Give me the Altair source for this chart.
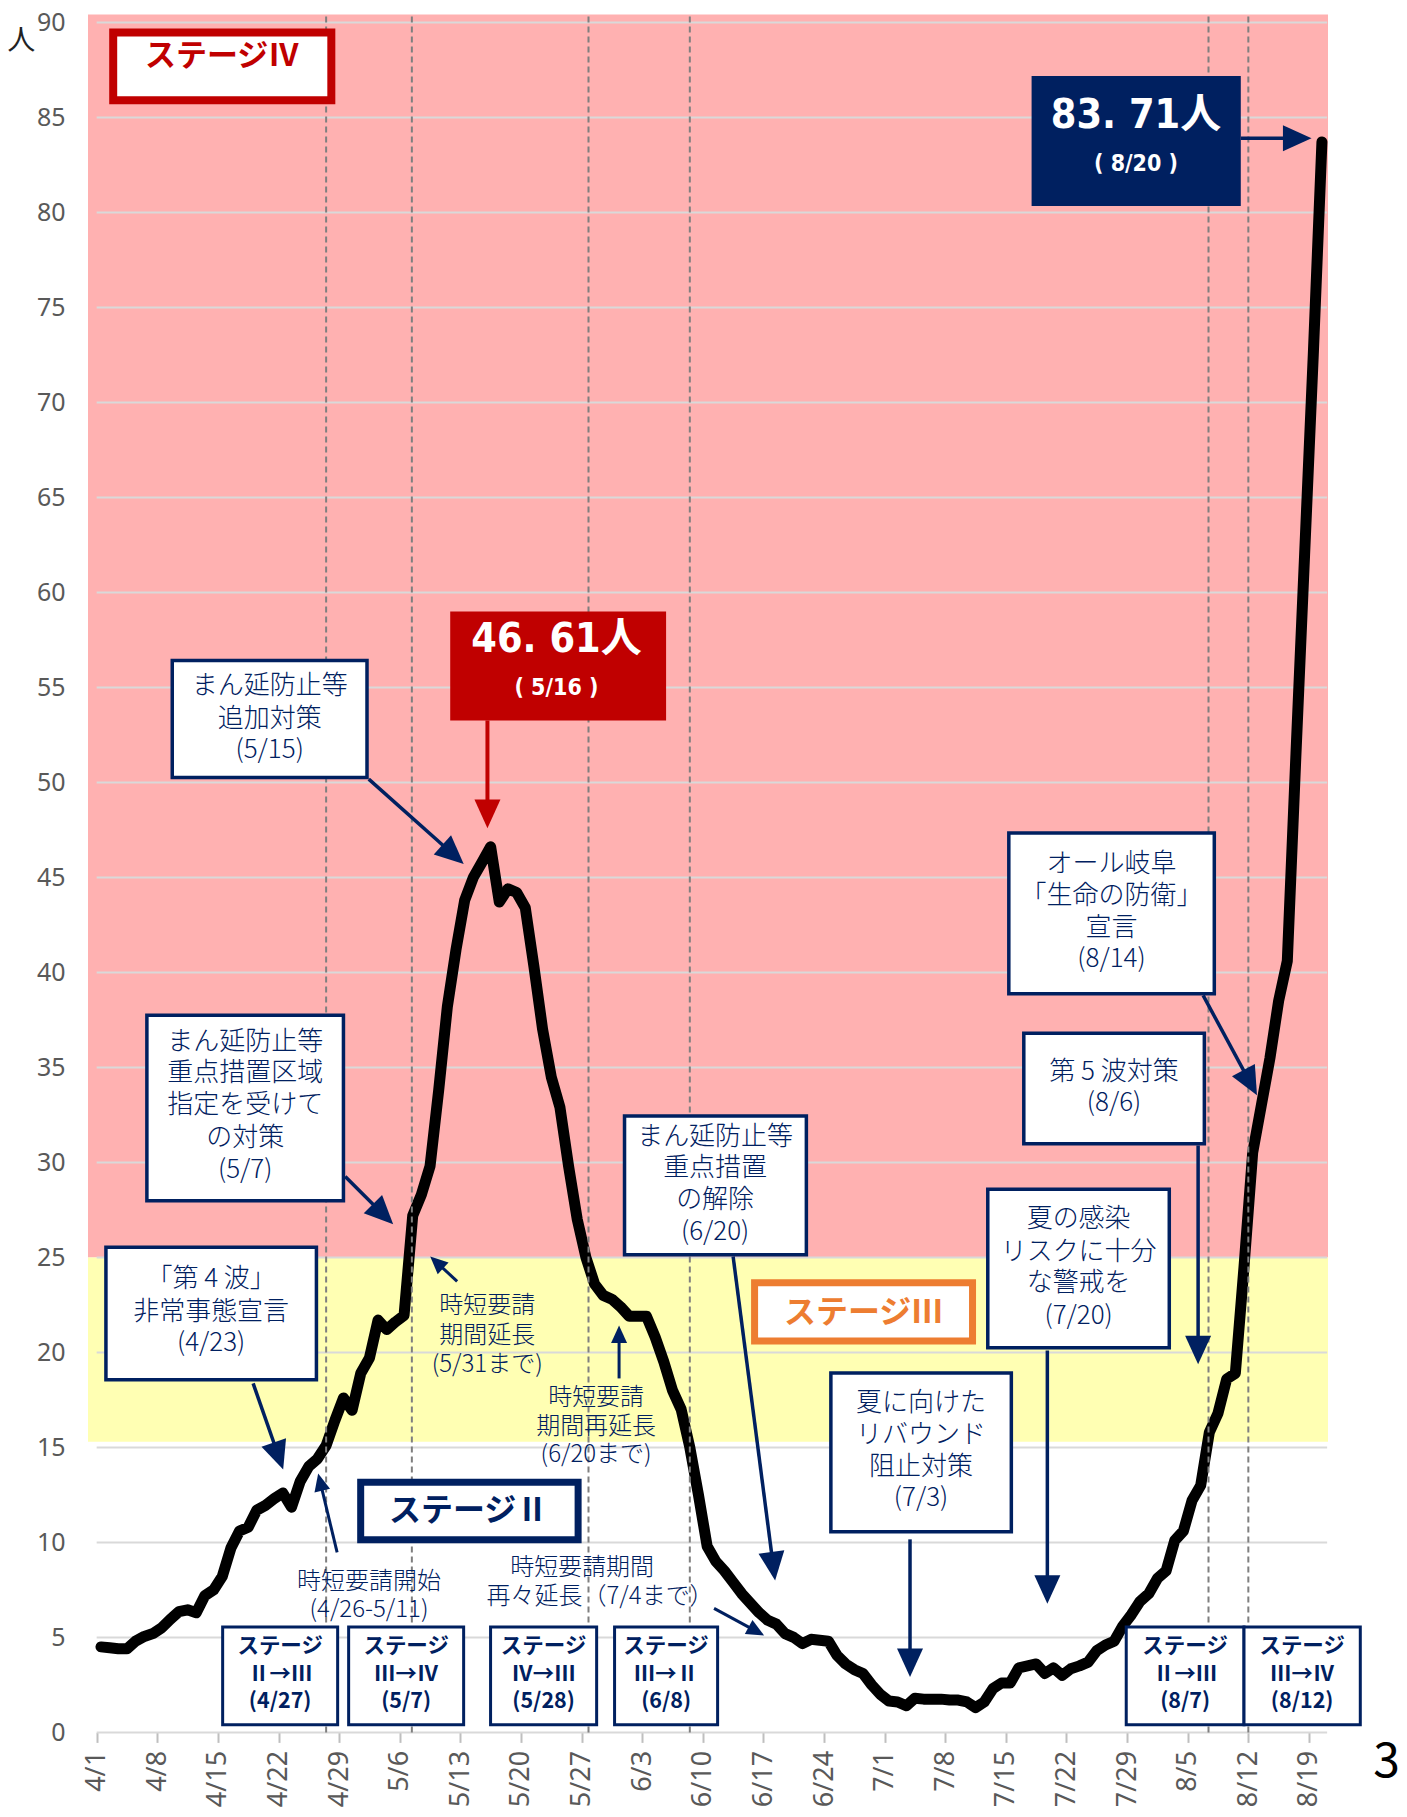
import json
import math
import altair as alt
import pandas as pd

# ------------------------------------------------------------------ data
START_DATE = "2021-04-01"
# 直近1週間の人口10万人あたり新規陽性者数 (4/1 - 8/20)
RATE = [
    4.5, 4.45, 4.4, 4.4, 4.8, 5.05, 5.2, 5.5, 5.95, 6.35,          # 4/1-4/10
    6.45, 6.3, 7.2, 7.5, 8.2, 9.7, 10.6, 10.8, 11.7, 11.95,        # 4/11-4/20
    12.3, 12.6, 11.85, 13.2, 14.0, 14.4, 15.1, 16.4, 17.6, 16.95,  # 4/21-4/30
    18.9, 19.7, 21.7, 21.2, 21.6, 21.95, 27.2, 28.3, 29.8, 33.8,   # 5/1-5/10
    38.2, 41.2, 43.8, 45.0, 45.8, 46.61, 43.7, 44.4, 44.2, 43.4,   # 5/11-5/20
    40.3, 37.0, 34.5, 32.9, 29.8, 27.0, 25.0, 23.6, 23.0, 22.8,    # 5/21-5/30
    22.4, 21.9, 21.9, 21.9, 20.8, 19.5, 18.0, 17.0, 15.0, 12.5,    # 5/31-6/9
    9.8, 9.0, 8.5, 7.9, 7.3, 6.8, 6.3, 5.9, 5.7, 5.2,              # 6/10-6/19
    5.0, 4.67, 4.9, 4.85, 4.8, 4.05, 3.6, 3.3, 3.1, 2.5,           # 6/20-6/29
    2.0, 1.65, 1.6, 1.4, 1.8, 1.75, 1.75, 1.75, 1.7, 1.7,          # 6/30-7/9
    1.6, 1.3, 1.6, 2.3, 2.6, 2.6, 3.4, 3.5, 3.6, 3.1,              # 7/10-7/19
    3.4, 3.0, 3.35, 3.5, 3.7, 4.3, 4.6, 4.8, 5.6, 6.2,             # 7/20-7/29
    6.9, 7.3, 8.1, 8.5, 10.1, 10.6, 12.2, 13.0, 15.8, 16.8,        # 7/30-8/8
    18.6, 18.9, 24.5, 30.5, 33.0, 35.5, 38.5, 40.6, 51.5, 62.0,    # 8/9-8/18
    72.5, 83.71,                                                   # 8/19-8/20
]
TICK_LABELS = ["4/1", "4/8", "4/15", "4/22", "4/29", "5/6", "5/13", "5/20",
               "5/27", "6/3", "6/10", "6/17", "6/24", "7/1", "7/8", "7/15",
               "7/22", "7/29", "8/5", "8/12", "8/19"]
Y_TICKS = [0, 5, 10, 15, 20, 25, 30, 35, 40, 45, 50, 55, 60, 65, 70, 75, 80, 85, 90]
STAGE4_FROM = 25
STAGE3_FROM = 15.3
STAGE_CHANGE_DATES = ["4/27", "5/7", "5/28", "6/8", "8/7", "8/12"]
STAGE_CHANGE_STEPS = ["Ⅱ→Ⅲ", "Ⅲ→Ⅳ", "Ⅳ→Ⅲ", "Ⅲ→Ⅱ", "Ⅱ→Ⅲ", "Ⅲ→Ⅳ"]
PEAK_DATES = ["5/16", "8/20"]

# ------------------------------------------------------------------ layout
W, H = 1240, 1718
XMIN, XMAX = -1.0, 142.2
YMIN, YMAX = 0.0, 90.42
GRID_END = 142.1
PX_DAY = W / (XMAX - XMIN)
PX_VAL = H / (YMAX - YMIN)
DASH_NUDGE = [0.0, -0.1, -0.7, 0.0, -0.1, -0.5]   # where the original dashed lines sit

NAVY = "#002060"
RED = "#C00000"
ORANGE = "#ED7D31"
JP = "Noto Sans CJK JP"
NARROW = "'Liberation Sans Narrow', 'DejaVu Sans Condensed', 'Noto Sans CJK JP'"

start = pd.Timestamp(START_DATE)


def day_of(md):
    m, d = md.split("/")
    return (pd.Timestamp(year=start.year, month=int(m), day=int(d)) - start).days


XS = alt.Scale(domain=[XMIN, XMAX], nice=False, zero=False)
YS = alt.Scale(domain=[YMIN, YMAX], nice=False, zero=False)
X_AXIS = alt.Axis(
    values=[7 * i for i in range(len(TICK_LABELS))],
    labelExpr=json.dumps(TICK_LABELS) + "[round(datum.value / 7)]",
    labelAngle=270, labelFontSize=27, labelColor="#595959", labelFont="Noto Sans",
    labelPadding=8, ticks=True, tickSize=10, tickColor="#BFBFBF", tickWidth=2,
    domain=False, grid=False, title=None, labelOverlap=False, labelFlush=False,
)
Y_AXIS = alt.Axis(
    values=Y_TICKS, labelFontSize=25, labelColor="#595959", labelFont="Noto Sans",
    labelPadding=23, ticks=False, domain=False, grid=False, title=None,
    labelOverlap=False, labelFlush=False,
)


def X(f):
    return alt.X(f"{f}:Q", scale=XS, axis=X_AXIS)


def Y(f):
    return alt.Y(f"{f}:Q", scale=YS, axis=Y_AXIS)


# bands
bands = pd.DataFrame({
    "x": [XMIN, XMIN], "x2": [XMAX, XMAX],
    "y": [STAGE4_FROM, STAGE3_FROM], "y2": [YMAX, STAGE4_FROM],
    "c": ["#FFB1B1", "#FFFFB3"],
})
band_layer = alt.Chart(bands).mark_rect().encode(
    x=X("x"), x2="x2", y=Y("y"), y2="y2", fill=alt.Fill("c:N", scale=None))

grid = pd.DataFrame({"y": Y_TICKS, "x": 0.0, "x2": GRID_END})
grid_layer = alt.Chart(grid).mark_rule(color="#D9D9D9", strokeWidth=2).encode(
    x=X("x"), x2="x2", y=Y("y"))

line_df = pd.DataFrame({
    "date": pd.date_range(START_DATE, periods=len(RATE)).strftime("%m/%d"),
    "x": [i + 0.5 for i in range(len(RATE))],
    "v": RATE,
})
line_layer = alt.Chart(line_df).mark_line(
    color="black", strokeWidth=11, strokeJoin="round", strokeCap="round"
).encode(x=X("x"), y=Y("v"), order="x:Q")

dash = pd.DataFrame({"x": [day_of(d) + 0.5 + n for d, n in zip(STAGE_CHANGE_DATES, DASH_NUDGE)],
                     "y": 0.0, "y2": YMAX})
dash_layer = alt.Chart(dash).mark_rule(color="#7F7F7F", strokeWidth=2, strokeDash=[6, 4]).encode(
    x=X("x"), y=Y("y"), y2="y2")

# ------------------------------------------------------------------ boxes
small_boxes = [(14.55, 27.83), (29.1, 42.38), (45.49, 57.74), (59.81, 71.71),
               (118.9, 132.5), (132.5, 145.93)]
boxes = [
    # x, x2, y, y2, fill, stroke, sw
    (1.91, 27.10, 85.9, 89.47, "white", RED, 8),
    (40.83, 65.76, 53.26, 58.99, RED, RED, 0),
    (107.97, 132.13, 80.33, 87.18, NAVY, NAVY, 0),
    (8.73, 31.22, 50.26, 56.41, "white", NAVY, 3.5),
    (5.8, 28.5, 27.98, 37.75, "white", NAVY, 3.5),
    (1.07, 25.38, 18.56, 25.54, "white", NAVY, 3.5),
    (30.49, 55.6, 10.14, 13.17, "white", NAVY, 7),
    (75.98, 101.15, 20.6, 23.66, "white", ORANGE, 7),
    (60.96, 81.96, 25.14, 32.44, "white", NAVY, 3.5),
    (84.79, 105.63, 10.56, 18.91, "white", NAVY, 3.5),
    (102.91, 123.87, 20.25, 28.59, "white", NAVY, 3.5),
    (107.07, 127.92, 30.98, 36.8, "white", NAVY, 3.5),
    (105.34, 129.07, 38.88, 47.33, "white", NAVY, 3.5),
] + [(a, b, 0.4, 5.55, "white", NAVY, 3) for a, b in small_boxes]
box_df = pd.DataFrame(boxes, columns=["x", "x2", "y", "y2", "fill", "stroke", "sw"])
box_layer = alt.Chart(box_df).mark_rect().encode(
    x=X("x"), x2="x2", y=Y("y"), y2="y2",
    fill=alt.Fill("fill:N", scale=None), stroke=alt.Stroke("stroke:N", scale=None),
    strokeWidth=alt.StrokeWidth("sw:Q", scale=None))

# ------------------------------------------------------------------ arrows
arrows = [
    # tail x, tail y, tip x, tip y, color, shaft width, head width (px)
    (45.13, 53.26, 45.13, 47.59, RED, 4, 26),
    (132.13, 83.9, 140.3, 83.9, NAVY, 3.5, 26),
    (31.42, 50.17, 42.39, 45.71, NAVY, 3.5, 26),
    (28.7, 29.26, 34.24, 26.74, NAVY, 3.5, 26),
    (18.07, 18.37, 21.54, 13.84, NAVY, 3.5, 26),
    (73.5, 25.05, 78.35, 8.0, NAVY, 3.5, 26),
    (93.93, 10.16, 93.93, 2.91, NAVY, 3.5, 26),
    (109.79, 20.1, 109.79, 6.77, NAVY, 3.5, 26),
    (127.2, 30.89, 127.2, 19.37, NAVY, 3.5, 26),
    (127.78, 38.79, 134.0, 33.53, NAVY, 3.5, 26),
    (27.77, 9.47, 25.58, 13.63, NAVY, 3, 16),
    (41.63, 23.74, 38.52, 25.05, NAVY, 3, 16),
    (60.33, 18.63, 60.33, 21.42, NAVY, 3, 16),
    (71.3, 6.53, 77.08, 5.1, NAVY, 3, 16),
]
shafts, heads = [], []
for x1, y1, x2, y2, col, sw, hw in arrows:
    dxp = (x2 - x1) * PX_DAY
    dyp = -(y2 - y1) * PX_VAL
    L = math.hypot(dxp, dyp)
    ux, uy = dxp / L, dyp / L
    ang = math.degrees(math.atan2(ux, -uy)) % 360
    back = hw * 1.1 * 0.7
    shafts.append({"x": x1, "y": y1, "x2": x2 - ux * back / PX_DAY,
                   "y2": y2 + uy * back / PX_VAL, "c": col, "sw": sw})
    heads.append({"x": x2, "y": y2, "a": ang, "s": (2 * hw) ** 2, "c": col})
shaft_layer = alt.Chart(pd.DataFrame(shafts)).mark_rule().encode(
    x=X("x"), y=Y("y"), x2="x2", y2="y2",
    color=alt.Color("c:N", scale=None), strokeWidth=alt.StrokeWidth("sw:Q", scale=None))
head_layer = alt.Chart(pd.DataFrame(heads)).mark_point(
    shape="M0,0L-0.5,1.1L0.5,1.1Z", filled=True, opacity=1, strokeWidth=0
).encode(x=X("x"), y=Y("y"), angle=alt.Angle("a:Q", scale=None),
         size=alt.Size("s:Q", scale=None), color=alt.Color("c:N", scale=None))

# ------------------------------------------------------------------ texts
def text_layer(rows, size, weight="normal", font=JP, color=NAVY):
    df = pd.DataFrame(rows, columns=["x", "y", "t"])
    return alt.Chart(df).mark_text(
        font=font, fontSize=size, fontWeight=weight, color=color,
        align="center", baseline="middle"
    ).encode(x=X("x"), y=Y("y"), text="t:N")


box_notes = [
    (19.98, 55.05, "まん延防止等"), (19.98, 53.34, "追加対策"), (19.98, 51.68, "(5/15)"),
    (17.15, 36.32, "まん延防止等"), (17.15, 34.68, "重点措置区域"), (17.15, 33.0, "指定を受けて"),
    (17.15, 31.26, "の対策"), (17.15, 29.58, "(5/7)"),
    (13.22, 23.84, "「第 4 波」"), (13.22, 22.1, "非常事態宣言"), (13.22, 20.5, "(4/23)"),
    (71.42, 31.33, "まん延防止等"), (71.42, 29.68, "重点措置"), (71.42, 28.0, "の解除"),
    (71.42, 26.33, "(6/20)"),
    (95.2, 17.32, "夏に向けた"), (95.2, 15.63, "リバウンド"), (95.2, 13.95, "阻止対策"),
    (95.2, 12.32, "(7/3)"),
    (113.4, 27.0, "夏の感染"), (113.4, 25.26, "リスクに十分"), (113.4, 23.63, "な警戒を"),
    (113.4, 21.92, "(7/20)"),
    (117.49, 34.74, "第 5 波対策"), (117.49, 33.1, "(8/6)"),
    (117.2, 45.68, "オール岐阜"), (117.2, 44.0, "「生命の防衛」"), (117.2, 42.34, "宣言"),
    (117.2, 40.68, "(8/14)"),
]
free_notes = [
    (31.45, 7.89, "時短要請開始"), (31.45, 6.42, "(4/26-5/11)"),
    (45.1, 22.42, "時短要請"), (45.1, 20.84, "期間延長"), (45.1, 19.32, "(5/31まで)"),
    (57.68, 17.58, "時短要請"), (57.68, 16.05, "期間再延長"), (57.68, 14.58, "(6/20まで)"),
    (56.06, 8.63, "時短要請期間"), (58.14, 7.1, "再々延長（7/4まで）"),
]
small_rows = []
for (a, b), d, step in zip(small_boxes, STAGE_CHANGE_DATES, STAGE_CHANGE_STEPS):
    cx = (a + b) / 2
    small_rows += [(cx, 4.47, "ステージ"), (cx, 3.0, step), (cx, 1.58, f"({d})")]

peak_vals = [RATE[day_of(d)] for d in PEAK_DATES]
peak_pos = [(53.1, 57.47, 54.95), (120.03, 85.05, 82.55)]
big_rows = [(px, py, f"{v:.2f}".replace(".", ". ") + "人") for (px, py, _), v in zip(peak_pos, peak_vals)]
date_rows = [(px, py2, f"( {d} )") for (px, _, py2), d in zip(peak_pos, PEAK_DATES)]

layers = [
    band_layer, grid_layer, line_layer, dash_layer, box_layer, shaft_layer, head_layer,
    text_layer(box_notes, 26, 300),
    text_layer(free_notes, 24, 300),
    text_layer(small_rows, 21.5, "bold"),
    text_layer([(14.49, 88.16, "ステージⅣ")], 31, "bold", color=RED),
    text_layer([(42.96, 11.63, "ステージⅡ")], 32, "bold", color=NAVY),
    text_layer([(88.57, 22.05, "ステージⅢ")], 32, "bold", color=ORANGE),
    text_layer(big_rows, 41, "bold", font=NARROW, color="white"),
    text_layer(date_rows, 23, "bold", font=NARROW, color="white"),
    text_layer([(-8.72, 88.97, "人")], 28, color="#222222"),
    text_layer([(148.96, -1.6, "3")], 48, color="black"),
]

chart = alt.layer(*layers).properties(
    width=W, height=H,
    autosize=alt.AutoSizeParams(type="none"),
    padding={"left": 80, "top": 6.4, "right": 71, "bottom": 76},
).configure_view(stroke=None)

chart.save("out.html", embed_options={"renderer": "svg", "actions": False})
